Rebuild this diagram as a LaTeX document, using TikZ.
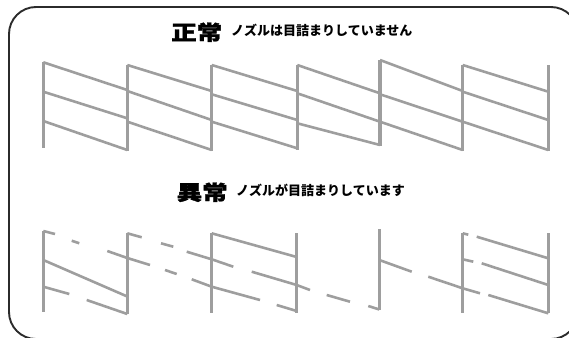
\documentclass[tikz,border=0pt]{standalone}
\usepackage{fontspec}
\usepackage{graphicx}
\newfontfamily\cjk{Noto Sans CJK JP}
\newfontfamily\cjkheavy{Noto Sans CJK JP}[BoldFeatures={FakeBold=1.5}]
\definecolor{inkgray}{HTML}{9E9E9E}
\definecolor{framecol}{HTML}{2B2B2B}
\tikzset{
  vline/.style={draw=inkgray, line width=3.1pt},
  dline/.style={draw=inkgray, line width=2.6pt},
  framebox/.style={draw=framecol, line width=1.9pt, rounded corners=27pt},
  bigtxt/.style={anchor=base west, inner sep=0pt, font=\cjkheavy\bfseries\fontsize{25.5}{25.5}\selectfont},
  smalltxt/.style={anchor=base west, inner sep=0pt, font=\cjk\bfseries\fontsize{13}{13}\selectfont},
}
\begin{document}
\begin{tikzpicture}[x=1pt,y=-1pt]
\useasboundingbox (0,0) rectangle (569,337);
\begin{scope}
  \clip (0,0) rectangle (569,337);
  \draw[framebox] (9,7) rectangle (578,339);
\end{scope}

% titles
\node[bigtxt] (t1) at (171,40) {\scalebox{1}[0.8]{正常}};
\node[smalltxt] (s1) at (231,35.5) {ノズルは目詰まりしていません};
\node[bigtxt] (t2) at (176.5,200) {\scalebox{1}[0.8]{異常}};
\node[smalltxt] (s2) at (236,195.5) {ノズルが目詰まりしています};

% ---------- normal pattern ----------
\draw[vline] (43.3,62) -- (43.3,148);
\draw[vline] (127.3,65) -- (127.3,150.7);
\draw[vline] (211.7,65) -- (211.7,150.7);
\draw[vline] (297.3,65) -- (297.3,150);
\draw[vline] (380,60) -- (380,145.7);
\draw[vline] (462.7,65) -- (462.7,150.7);
\draw[vline] (548.3,65) -- (548.3,150.7);
% panel 1
\draw[dline] (43.3,62.3) -- (127.3,90);
\draw[dline] (43.3,91.7) -- (127.3,118.3);
\draw[dline] (43.3,121) -- (127.3,150);
% panel 2
\draw[dline] (127.3,65) -- (211.7,91);
\draw[dline] (127.3,91) -- (211.7,120);
\draw[dline] (127.3,121.7) -- (211.7,150);
% panel 3
\draw[dline] (211.7,65) -- (297.3,91);
\draw[dline] (211.7,94.3) -- (297.3,120);
\draw[dline] (211.7,121.7) -- (297.3,148.3);
% panel 4
\draw[dline] (297.3,65) -- (380,93.3);
\draw[dline] (297.3,93.3) -- (380,121.7);
\draw[dline] (297.3,123.3) -- (380,145);
% panel 5
\draw[dline] (380,60) -- (462.7,91);
\draw[dline] (380,94.3) -- (462.7,121.7);
\draw[dline] (380,121.7) -- (462.7,150);
% panel 6
\draw[dline] (462.7,65) -- (548.3,91.7);
\draw[dline] (462.7,91.7) -- (548.3,120);
\draw[dline] (462.7,121.7) -- (548.3,150);

% ---------- clogged pattern ----------
\draw[vline] (43.3,231) -- (43.3,311.7);
\draw[vline] (127.3,233.3) -- (127.3,314);
\draw[vline] (211.7,233.3) -- (211.7,313.3);
\draw[vline] (296.7,233.3) -- (296.7,312.7);
\draw[vline] (379.3,229.3) -- (379.3,310);
\draw[vline] (462.7,233.3) -- (462.7,312.7);
\draw[vline] (548.3,233.3) -- (548.3,313.3);
% panel 1
\draw[dline] (43.3,231) -- (55,234);
\draw[dline] (71.7,240.7) -- (79.3,243.3);
\draw[dline] (107.3,251) -- (127.3,258);
\draw[dline] (43.3,260) -- (127.3,296.5);
\draw[dline] (43.3,286.7) -- (69.3,294);
\draw[dline] (86.7,300) -- (127.3,314);
% panel 2
\draw[dline] (127.3,233.3) -- (141.7,237.3);
\draw[dline] (161,243.3) -- (173.3,246.7);
\draw[dline] (186.7,251.7) -- (211.7,259.3);
\draw[dline] (127.3,258) -- (150,265);
\draw[dline] (165,270) -- (176.7,274);
\draw[dline] (191.7,279.3) -- (211.7,286.7);
% panel 3
\draw[dline] (211.7,233.3) -- (296.7,257);
\draw[dline] (211.7,259.3) -- (233.3,266.7);
\draw[dline] (251.7,271.7) -- (296.7,285);
\draw[dline] (211.7,286.7) -- (260,300);
\draw[dline] (276.7,305) -- (296.7,311);
% panel 4
\draw[dline] (296.7,285) -- (310,290);
\draw[dline] (326.7,295) -- (350,301.7);
\draw[dline] (368.3,306) -- (379.3,309.5);
% panel 5
\draw[dline] (379.3,260) -- (411.7,271.7);
\draw[dline] (428.3,276.7) -- (462.7,288.3);
% panel 6
\draw[dline] (462.7,233.3) -- (468.3,234.7);
\draw[dline] (476.7,236.7) -- (548.3,258.3);
\draw[dline] (462.7,259.3) -- (473.3,261.7);
\draw[dline] (481.7,263.3) -- (548.3,285);
\draw[dline] (462.7,288.3) -- (480,293.3);
\draw[dline] (488.3,295) -- (548.3,313.3);
\end{tikzpicture}
\end{document}
